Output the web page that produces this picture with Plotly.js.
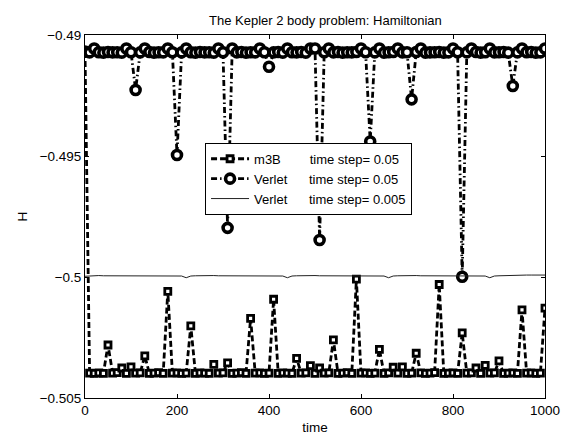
<!DOCTYPE html>
<html>
<head>
<meta charset="utf-8">
<script src="https://cdn.plot.ly/plotly-3.0.1.min.js"></script>
<style>html,body{margin:0;padding:0;background:#fff;}#chart{width:562px;height:435px;}</style>
</head>
<body>
<div id="chart"></div>
<script>
var time = [0,10,20,30,40,50,60,70,80,90,
  100,110,120,130,140,150,160,170,180,190,
  200,210,220,230,240,250,260,270,280,290,
  300,310,320,330,340,350,360,370,380,390,
  400,410,420,430,440,450,460,470,480,490,
  500,510,520,530,540,550,560,570,580,590,
  600,610,620,630,640,650,660,670,680,690,
  700,710,720,730,740,750,760,770,780,790,
  800,810,820,830,840,850,860,870,880,890,
  900,910,920,930,940,950,960,970,980,990,
  1000];

var m3B_005 = [-0.4907,-0.50397,-0.50398,-0.50396,-0.50398,-0.50281,-0.50397,-0.50395,-0.50376,-0.50398,
  -0.50371,-0.50397,-0.50396,-0.50326,-0.50398,-0.50397,-0.50395,-0.50398,-0.50059,-0.50397,
  -0.50396,-0.50398,-0.50397,-0.50202,-0.50398,-0.50396,-0.50397,-0.50398,-0.50361,-0.50397,
  -0.50396,-0.50355,-0.50398,-0.50397,-0.50395,-0.50398,-0.50171,-0.50397,-0.50396,-0.50398,
  -0.50397,-0.50092,-0.50398,-0.50396,-0.50397,-0.50398,-0.50336,-0.50397,-0.50396,-0.50366,
  -0.50398,-0.50376,-0.50397,-0.50396,-0.50260,-0.50398,-0.50397,-0.50395,-0.50398,-0.50009,
  -0.50397,-0.50396,-0.50398,-0.50397,-0.50299,-0.50398,-0.50396,-0.50373,-0.50397,-0.50371,
  -0.50398,-0.50397,-0.50315,-0.50396,-0.50398,-0.50397,-0.50395,-0.50031,-0.50398,-0.50397,
  -0.50396,-0.50398,-0.50231,-0.50397,-0.50396,-0.50376,-0.50398,-0.50365,-0.50397,-0.50396,
  -0.50347,-0.50398,-0.50397,-0.50396,-0.50398,-0.50136,-0.50397,-0.50396,-0.50398,-0.50397,
  -0.50129];

var verlet_005 = [-0.49068,-0.49072,-0.49056,-0.49071,-0.49073,-0.49070,-0.49072,-0.49071,-0.49073,-0.49056,
  -0.49071,-0.49227,-0.49072,-0.49056,-0.49070,-0.49073,-0.49071,-0.49072,-0.49056,-0.49071,
  -0.49496,-0.49072,-0.49056,-0.49071,-0.49073,-0.49070,-0.49072,-0.49071,-0.49073,-0.49056,
  -0.49071,-0.49797,-0.49056,-0.49072,-0.49070,-0.49073,-0.49071,-0.49072,-0.49056,-0.49071,
  -0.49131,-0.49072,-0.49070,-0.49073,-0.49056,-0.49071,-0.49072,-0.49070,-0.49073,-0.49056,
  -0.49056,-0.49847,-0.49071,-0.49056,-0.49072,-0.49070,-0.49073,-0.49071,-0.49072,-0.49070,
  -0.49056,-0.49071,-0.49440,-0.49072,-0.49056,-0.49073,-0.49071,-0.49070,-0.49056,-0.49072,
  -0.49071,-0.49266,-0.49070,-0.49056,-0.49073,-0.49072,-0.49071,-0.49070,-0.49073,-0.49072,
  -0.49056,-0.49071,-0.49999,-0.49072,-0.49056,-0.49070,-0.49073,-0.49071,-0.49056,-0.49072,
  -0.49071,-0.49070,-0.49073,-0.49211,-0.49072,-0.49056,-0.49071,-0.49070,-0.49073,-0.49072,
  -0.49056];

var verlet_0005 = [-0.49997,-0.49995,-0.49995,-0.49994,-0.49995,-0.49995,-0.49994,-0.49995,-0.49995,-0.49994,
  -0.49995,-0.49995,-0.49994,-0.49995,-0.49995,-0.49994,-0.49995,-0.49995,-0.49994,-0.49995,
  -0.49995,-0.49996,-0.50003,-0.49996,-0.49995,-0.49994,-0.49995,-0.49995,-0.49994,-0.49995,
  -0.49995,-0.49994,-0.49995,-0.49995,-0.49994,-0.49995,-0.49995,-0.49994,-0.49995,-0.49995,
  -0.49994,-0.49995,-0.49995,-0.49996,-0.50003,-0.49996,-0.49995,-0.49994,-0.49995,-0.49995,
  -0.49994,-0.49995,-0.49995,-0.49994,-0.49995,-0.49995,-0.49994,-0.49995,-0.49995,-0.49994,
  -0.49995,-0.49995,-0.49994,-0.49995,-0.49995,-0.49996,-0.50003,-0.49996,-0.49995,-0.49994,
  -0.49995,-0.49995,-0.49994,-0.49995,-0.49995,-0.49994,-0.49995,-0.49995,-0.49994,-0.49995,
  -0.49995,-0.49994,-0.49995,-0.49995,-0.49994,-0.49995,-0.49995,-0.49996,-0.50003,-0.49996,
  -0.49995,-0.49994,-0.49994,-0.49993,-0.49993,-0.49992,-0.49992,-0.49992,-0.49991,-0.49992,
  -0.49992];

var names = ["m3B", "Verlet", "Verlet"];
var steps = ["time step= 0.05", "time step= 0.05", "time step= 0.005"];
var pads = [8, 6, 6];

function label(i) {
  var s = names[i];
  for (var k = 0; k < pads[i]; k++) s += "\u00a0";
  return s + steps[i];
}

var FONT = "Liberation Sans, Arial, Helvetica, sans-serif";

var traces = [
  {
    x: time, y: m3B_005, name: label(0), type: "scatter", mode: "lines+markers",
    line: {color: "#000", width: 2.8, dash: "6px,3px"},
    marker: {symbol: "square", size: 6, color: "#fff", line: {color: "#000", width: 2.8}}
  },
  {
    x: time, y: verlet_005, name: label(1), type: "scatter", mode: "lines+markers",
    line: {color: "#000", width: 2.8, dash: "6px,3px,1.5px,3px"},
    marker: {symbol: "circle", size: 9, color: "#fff", line: {color: "#000", width: 3.6}}
  },
  {
    x: time, y: verlet_0005, name: label(2), type: "scatter", mode: "lines",
    line: {color: "#222", width: 1}
  }
];

var layout = {
  width: 562, height: 435,
  margin: {l: 85, r: 17, t: 35, b: 37},
  paper_bgcolor: "#fff", plot_bgcolor: "#fff",
  font: {family: FONT, color: "#000", size: 13.5},
  title: {text: "The Kepler 2 body problem: Hamiltonian", font: {family: FONT, size: 13, color: "#000"},
          x: 0.5226, xref: "paper", xanchor: "center", y: 0.952, yref: "container", yanchor: "middle"},
  xaxis: {
    range: [0, 1000], tick0: 0, dtick: 200, ticks: "inside", ticklen: 4, tickcolor: "#000",
    showline: true, linecolor: "#000", linewidth: 1, mirror: "allticks",
    showgrid: false, zeroline: false,
    tickfont: {family: FONT, size: 13.5, color: "#000"},
    title: {text: "time", font: {family: FONT, size: 13.5, color: "#000"}, standoff: 5}
  },
  yaxis: {
    range: [-0.505, -0.49], tick0: -0.505, dtick: 0.005, ticks: "inside", ticklen: 4, tickcolor: "#000",
    showline: true, linecolor: "#000", linewidth: 1, mirror: "allticks",
    showgrid: false, zeroline: false,
    tickfont: {family: FONT, size: 13.5, color: "#000"},
    title: {text: "H", font: {family: FONT, size: 13.5, color: "#000"}, standoff: 8}
  },
  showlegend: true,
  legend: {
    x: 0.261, y: 0.703, xanchor: "left", yanchor: "top",
    bgcolor: "#fff", bordercolor: "#000", borderwidth: 1,
    font: {family: FONT, size: 13, color: "#000"},
    itemwidth: 38, tracegroupgap: 0
  }
};

Plotly.newPlot("chart", traces, layout, {displayModeBar: false, staticPlot: true});
</script>
</body>
</html>
